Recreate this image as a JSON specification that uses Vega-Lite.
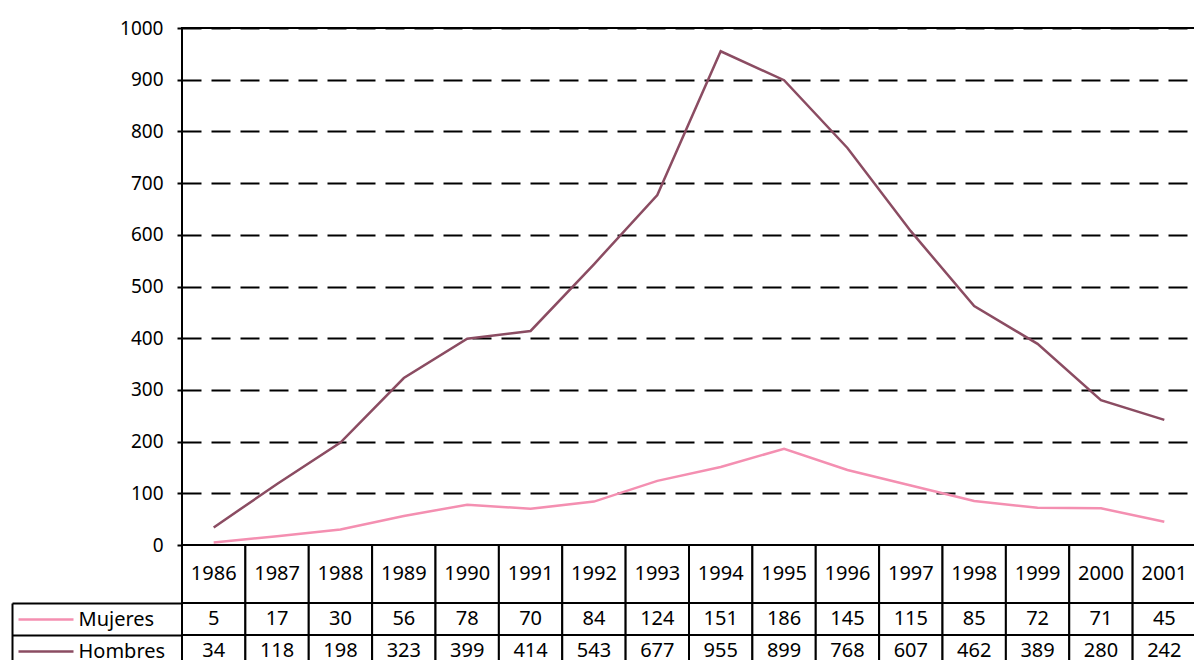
{
  "$schema": "https://vega.github.io/schema/vega-lite/v6.json",
  "padding": {"left": 11, "top": 18, "right": 0, "bottom": 0},
  "background": "white",
  "config": {"font": "Noto Sans", "view": {"stroke": null}},
  "datasets": {
    "series": [
      {"year": "1986", "serie": "Mujeres", "valor": 5},
      {"year": "1987", "serie": "Mujeres", "valor": 17},
      {"year": "1988", "serie": "Mujeres", "valor": 30},
      {"year": "1989", "serie": "Mujeres", "valor": 56},
      {"year": "1990", "serie": "Mujeres", "valor": 78},
      {"year": "1991", "serie": "Mujeres", "valor": 70},
      {"year": "1992", "serie": "Mujeres", "valor": 84},
      {"year": "1993", "serie": "Mujeres", "valor": 124},
      {"year": "1994", "serie": "Mujeres", "valor": 151},
      {"year": "1995", "serie": "Mujeres", "valor": 186},
      {"year": "1996", "serie": "Mujeres", "valor": 145},
      {"year": "1997", "serie": "Mujeres", "valor": 115},
      {"year": "1998", "serie": "Mujeres", "valor": 85},
      {"year": "1999", "serie": "Mujeres", "valor": 72},
      {"year": "2000", "serie": "Mujeres", "valor": 71},
      {"year": "2001", "serie": "Mujeres", "valor": 45},
      {"year": "1986", "serie": "Hombres", "valor": 34},
      {"year": "1987", "serie": "Hombres", "valor": 118},
      {"year": "1988", "serie": "Hombres", "valor": 198},
      {"year": "1989", "serie": "Hombres", "valor": 323},
      {"year": "1990", "serie": "Hombres", "valor": 399},
      {"year": "1991", "serie": "Hombres", "valor": 414},
      {"year": "1992", "serie": "Hombres", "valor": 543},
      {"year": "1993", "serie": "Hombres", "valor": 677},
      {"year": "1994", "serie": "Hombres", "valor": 955},
      {"year": "1995", "serie": "Hombres", "valor": 899},
      {"year": "1996", "serie": "Hombres", "valor": 768},
      {"year": "1997", "serie": "Hombres", "valor": 607},
      {"year": "1998", "serie": "Hombres", "valor": 462},
      {"year": "1999", "serie": "Hombres", "valor": 389},
      {"year": "2000", "serie": "Hombres", "valor": 280},
      {"year": "2001", "serie": "Hombres", "valor": 242}
    ]
  },
  "spacing": 0,
  "bounds": "flush",
  "vconcat": [
    {
      "width": 1014,
      "height": 517,
      "data": {"name": "series"},
      "view": {"stroke": "black", "strokeWidth": 2},
      "mark": {"type": "line", "strokeWidth": 2.5},
      "encoding": {
        "x": {"field": "year", "type": "ordinal", "scale": {"type": "point", "padding": 0.5}, "axis": null},
        "y": {
          "field": "valor", "type": "quantitative",
          "scale": {"domain": [0, 1000], "nice": false},
          "axis": {
            "values": [0, 100, 200, 300, 400, 500, 600, 700, 800, 900, 1000],
            "format": "d",
            "title": null, "grid": true, "gridColor": "black", "gridWidth": 2, "gridDash": [19, 10], "gridOpacity": 1,
            "domain": false, "tickColor": "black", "tickWidth": 2, "tickSize": 5,
            "labelPadding": 14, "labelFontSize": 19, "labelColor": "black"
          }
        },
        "color": {
          "field": "serie", "type": "nominal",
          "scale": {"domain": ["Mujeres", "Hombres"], "range": ["#F48FB1", "#8B4C62"]},
          "legend": null
        }
      }
    },
    {
      "width": 1014,
      "height": 58,
      "data": {"name": "series"},
      "transform": [{"filter": "datum.serie === 'Mujeres'"}],
      "encoding": {
        "x": {"field": "year", "type": "ordinal", "scale": {"type": "band", "paddingInner": 0, "paddingOuter": 0}, "axis": null}
      },
      "layer": [
        {"mark": {"type": "rect", "fill": "white", "stroke": "black", "strokeWidth": 2}},
        {"mark": {"type": "text", "fontSize": 20, "color": "black"}, "encoding": {"text": {"field": "year", "type": "nominal"}}}
      ]
    },
    {
      "width": 1014,
      "height": 64,
      "data": {"name": "series"},
      "resolve": {"axis": {"y": "independent"}},
      "encoding": {
        "x": {"field": "year", "type": "ordinal", "scale": {"type": "band", "paddingInner": 0, "paddingOuter": 0}, "axis": null}
      },
      "layer": [
        {
          "mark": {"type": "rect", "fill": "white", "stroke": "black", "strokeWidth": 2},
          "encoding": {
            "y": {
              "field": "serie", "type": "nominal",
              "scale": {"domain": ["Mujeres", "Hombres"], "paddingInner": 0, "paddingOuter": 0},
              "axis": {
                "orient": "left", "title": null, "domain": false, "grid": false,
                "ticks": true, "tickBand": "extent", "tickSize": 170, "tickColor": "black", "tickWidth": 2,
                "labelAlign": "left", "labelPadding": -66, "labelFontSize": 20, "labelColor": "black"
              }
            }
          }
        },
        {
          "mark": {"type": "text", "fontSize": 20, "color": "black"},
          "encoding": {
            "y": {
              "field": "serie", "type": "nominal",
              "scale": {"domain": ["Mujeres", "Hombres"], "paddingInner": 0, "paddingOuter": 0},
              "axis": {
                "orient": "left", "offset": 109, "title": null, "domain": false, "grid": false, "labels": false,
                "ticks": true, "tickSize": 55, "tickWidth": 2.5,
                "tickColor": {"condition": {"test": "datum.value === 'Mujeres'", "value": "#F48FB1"}, "value": "#8B4C62"}
              }
            },
            "text": {"field": "valor", "type": "quantitative"}
          }
        },
        {
          "mark": {"type": "rect", "fillOpacity": 0, "strokeOpacity": 0},
          "encoding": {
            "y": {
              "field": "serie", "type": "nominal",
              "scale": {"domain": ["Mujeres", "Hombres"], "paddingInner": 0, "paddingOuter": 0},
              "axis": {
                "orient": "left", "offset": 170, "title": null, "grid": false, "labels": false, "ticks": false,
                "domain": true, "domainColor": "black", "domainWidth": 2
              }
            }
          }
        }
      ]
    }
  ]
}
